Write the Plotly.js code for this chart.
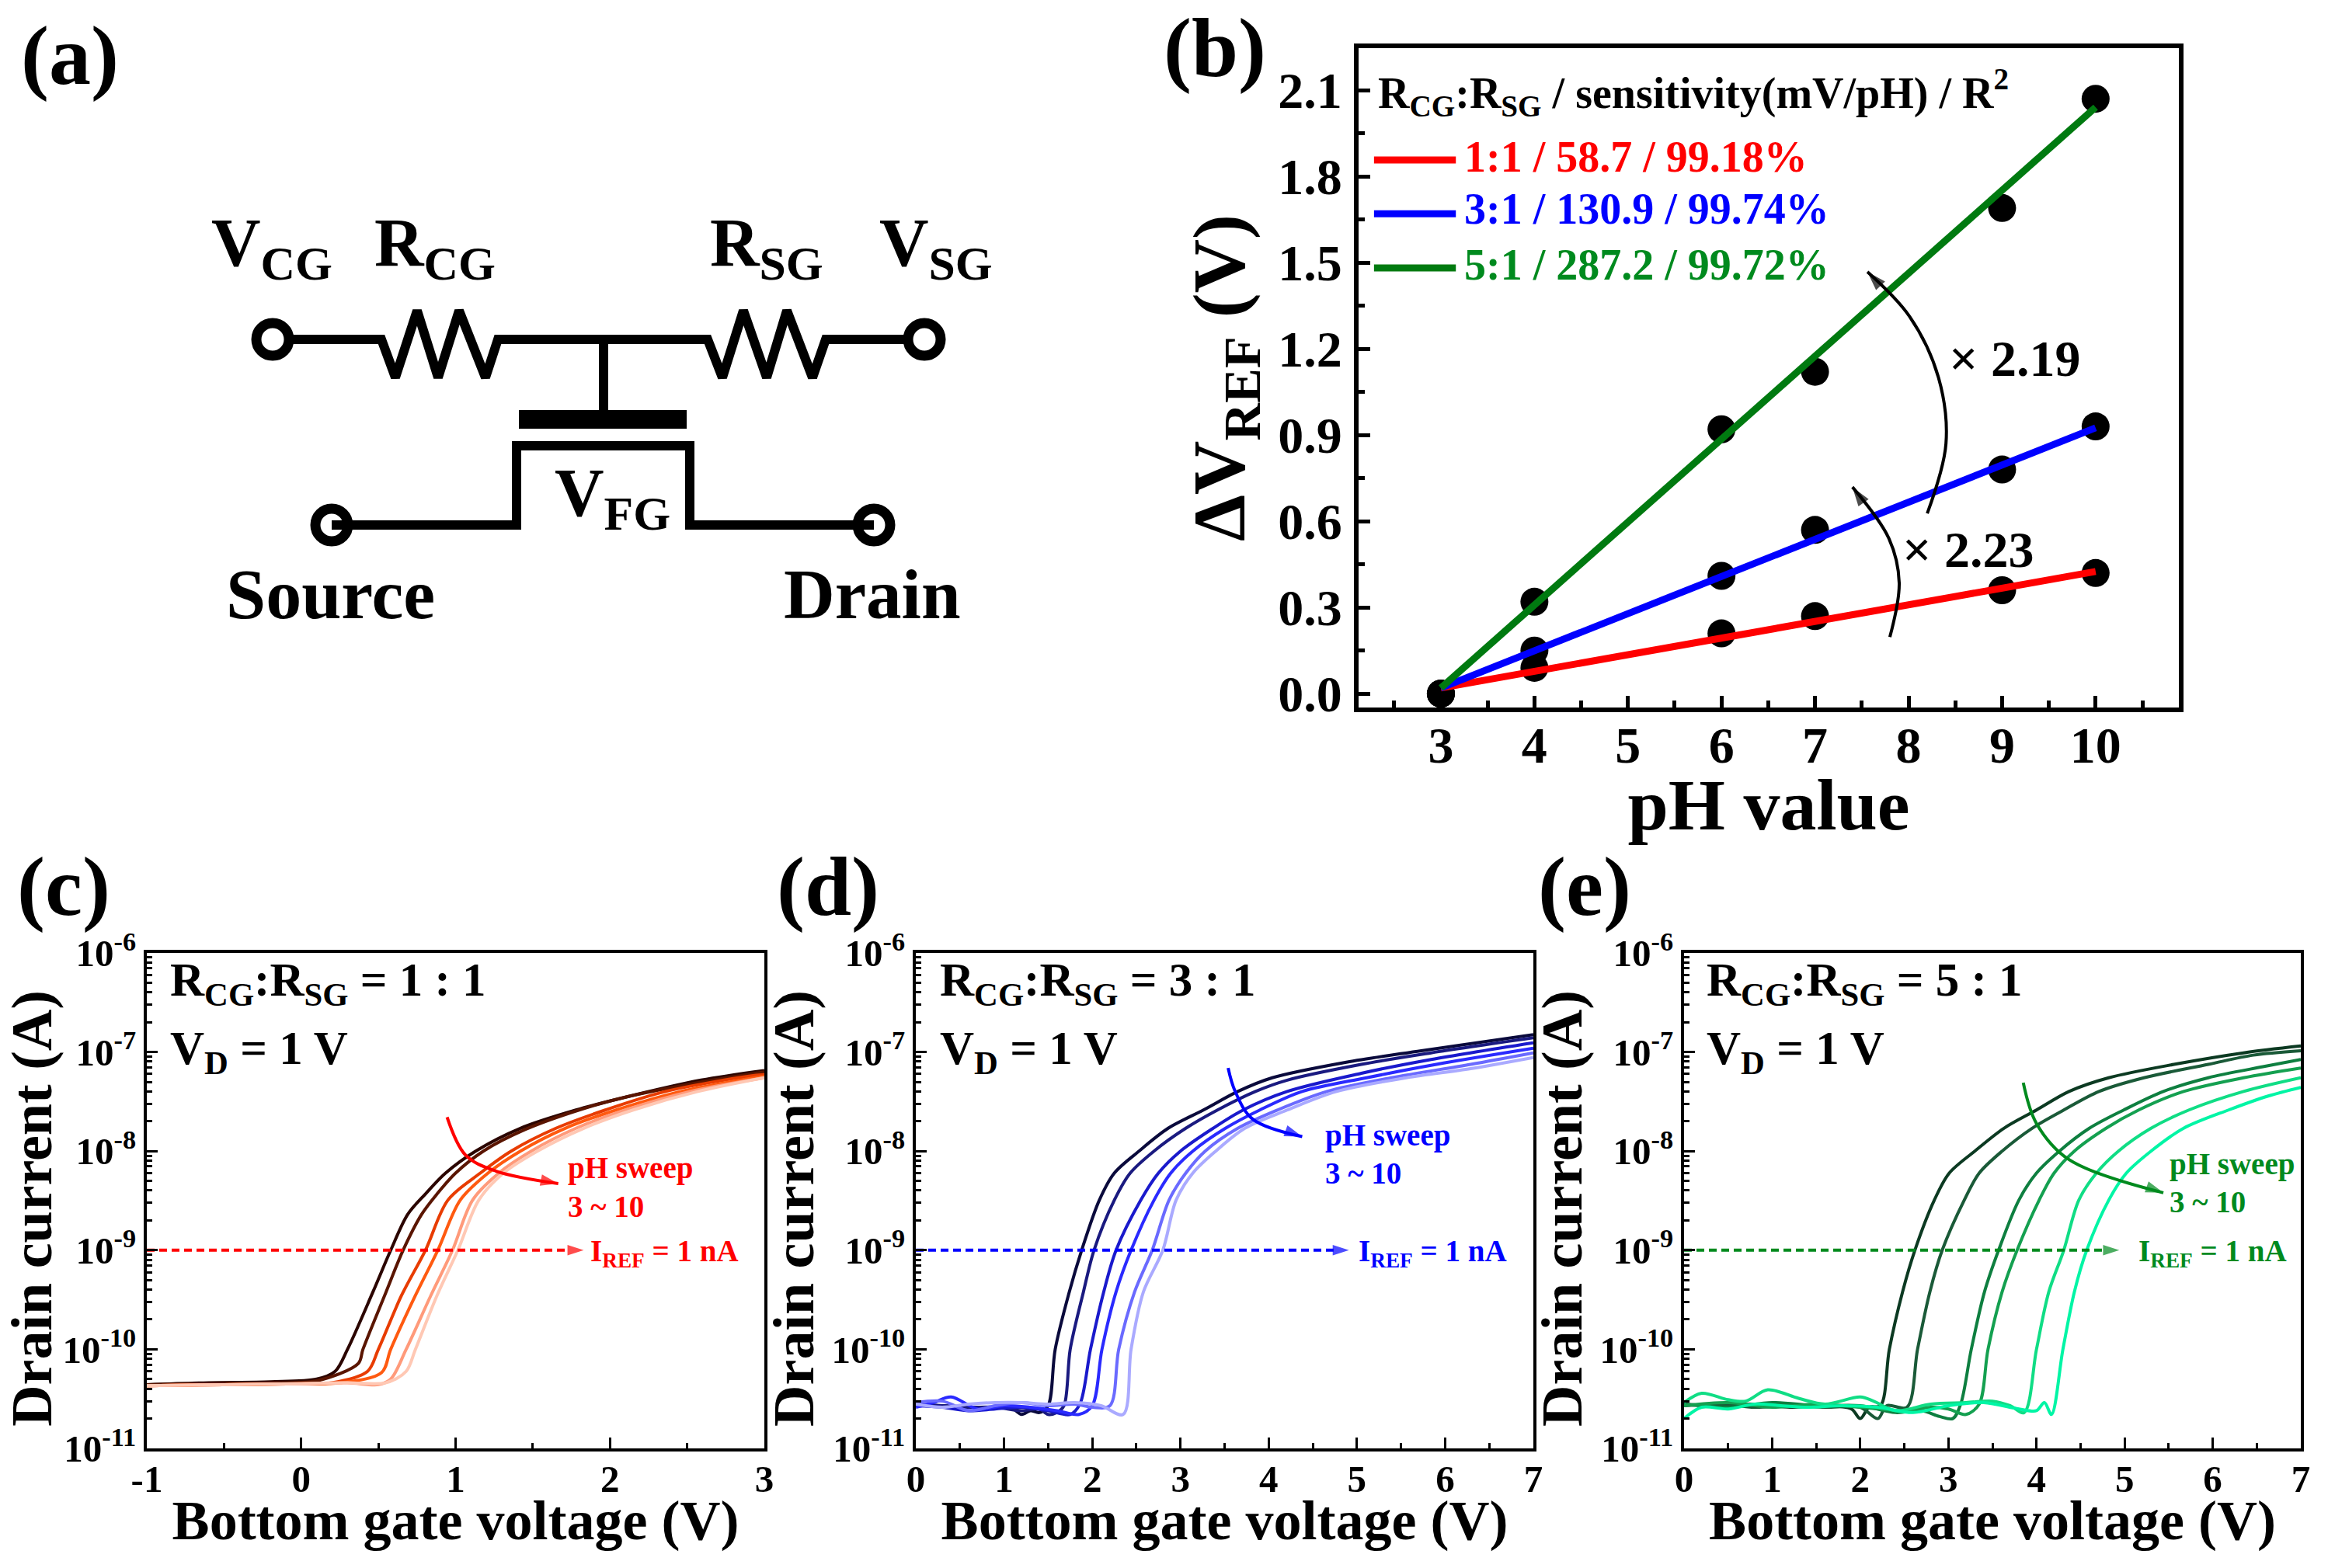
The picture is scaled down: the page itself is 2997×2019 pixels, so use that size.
<!DOCTYPE html>
<html><head><meta charset="utf-8">
<script src="https://cdn.plot.ly/plotly-3.0.0.min.js"></script>
<style>html,body{margin:0;padding:0;background:#fff}</style></head>
<body><div id="chart" style="width:2997px;height:2019px"></div>
<script>
const W=2997,H=2019,SERIF='"Liberation Serif","Times New Roman",serif';

// ---- panel (b) data ----
const pH=[3,4,6,7,9,10];
const dv11=[0,0.09,0.21,0.27,0.36,0.42];
const dv31=[0,0.15,0.41,0.57,0.78,0.93];
const dv51=[0,0.32,0.92,1.12,1.69,2.07];
const fitX=[3,10];
const fit11=[0.02,0.425];
const fit31=[0.02,0.925];
const fit51=[0.02,2.04];

// ---- panel (c) transfer curves: RCG:RSG = 1:1 ----
const c1V=[-1,-0.6,-0.2,0.1,0.22,0.3,0.465,0.58,0.69,0.805,0.935,1.13,1.42,1.78,2.1,2.59,3];
const c1I=[4.4e-11,4.6e-11,4.7e-11,5e-11,6e-11,1e-10,3.8e-10,1e-9,2.3e-9,3.7e-9,6e-9,1e-8,1.7e-8,2.6e-8,3.5e-8,5.2e-8,6.5e-8];
const c2V=[-1,-0.6,-0.2,0.1,0.37,0.4,0.55,0.66,0.78,0.88,1,1.18,1.45,1.8,2.1,2.6,3];
const c2I=[4.4e-11,4.5e-11,4.6e-11,4.8e-11,7.2e-11,1e-10,3.8e-10,1e-9,2.3e-9,3.7e-9,6e-9,1e-8,1.65e-8,2.6e-8,3.5e-8,5e-8,6.3e-8];
const c3V=[-1,-0.5,0,0.2,0.43,0.5,0.65,0.805,0.95,1.16,1.36,1.65,1.97,2.36,2.9,3];
const c3I=[4.3e-11,4.4e-11,4.5e-11,4.6e-11,6e-11,1e-10,3.5e-10,1e-9,3.2e-9,6e-9,1e-8,1.7e-8,2.6e-8,4e-8,5.7e-8,5.9e-8];
const c4V=[-1,-0.5,0,0.25,0.52,0.58,0.74,0.885,1.03,1.21,1.42,1.71,2.04,2.46,3];
const c4I=[4.3e-11,4.4e-11,4.5e-11,4.6e-11,5.8e-11,1e-10,3.5e-10,1e-9,3.2e-9,6e-9,1e-8,1.7e-8,2.6e-8,4e-8,5.7e-8];
const c5V=[-1,-0.5,0,0.3,0.5,0.58,0.68,0.84,0.98,1.11,1.28,1.49,1.78,2.1,2.52,3];
const c5I=[4.3e-11,4.4e-11,4.5e-11,4.6e-11,4.4e-11,5e-11,1e-10,3.5e-10,1e-9,3.2e-9,6e-9,1e-8,1.7e-8,2.6e-8,4e-8,5.5e-8];
const c6V=[-1,-0.5,0,0.3,0.55,0.68,0.74,0.88,1.015,1.15,1.31,1.53,1.83,2.15,2.57,3];
const c6I=[4.3e-11,4.4e-11,4.5e-11,4.6e-11,4.6e-11,6e-11,1e-10,3.5e-10,1e-9,3.2e-9,6e-9,1e-8,1.7e-8,2.6e-8,4e-8,5.5e-8];
const cColors=['#2b0500','#5a1500','#e83c00','#ff5a10','#ff9a7a','#ffc8b4'];

// ---- panel (d) transfer curves: RCG:RSG = 3:1 ----
const d1V=[0,0.3,0.6,0.9,1.1,1.2,1.3,1.4,1.5,1.58,1.74,1.88,2.08,2.25,2.53,2.86,3.26,3.65,4.04,4.88,5.73,7];
const d1I=[2.7e-11,2.7e-11,2.6e-11,2.6e-11,2.5e-11,2.2e-11,2.4e-11,2.3e-11,2.7e-11,1e-10,3.8e-10,1e-9,3.2e-9,6e-9,1e-8,1.7e-8,2.6e-8,4e-8,5.5e-8,7.9e-8,1.03e-7,1.5e-7];
const d2V=[0,0.3,0.6,0.9,1.2,1.4,1.5,1.6,1.68,1.75,1.9,2.02,2.25,2.43,2.7,3.06,3.42,3.85,4.21,5.05,5.84,7];
const d2I=[2.8e-11,2.7e-11,2.6e-11,2.6e-11,2.4e-11,2.5e-11,2.2e-11,2.3e-11,2.7e-11,1e-10,3.8e-10,1e-9,3.2e-9,6e-9,1e-8,1.7e-8,2.6e-8,4e-8,5.2e-8,7.5e-8,9.8e-8,1.39e-7];
const d3V=[0,0.3,0.6,0.9,1.2,1.5,1.75,1.86,1.98,2.13,2.27,2.55,2.75,3,3.37,3.71,4.21,5.05,5.84,7];
const d3I=[2.7e-11,2.6e-11,2.4e-11,2.5e-11,2.6e-11,2.4e-11,2.2e-11,2.8e-11,1e-10,3.8e-10,1e-9,3.2e-9,6e-9,1e-8,1.7e-8,2.6e-8,4e-8,6.1e-8,8.4e-8,1.24e-7];
const d4V=[0,0.2,0.4,0.7,1,1.3,1.6,1.85,2,2.11,2.27,2.44,2.7,2.89,3.14,3.51,3.9,4.38,5.11,5.9,7];
const d4I=[2.6e-11,2.9e-11,3.3e-11,2.5e-11,2.7e-11,2.6e-11,2.4e-11,2.2e-11,2.7e-11,1e-10,3.8e-10,1e-9,3.2e-9,6e-9,1e-8,1.7e-8,2.6e-8,4e-8,5.5e-8,7.5e-8,1.09e-7];
const d5V=[0,0.3,0.6,0.9,1.2,1.5,1.8,2,2.2,2.3,2.48,2.68,2.87,3.06,3.28,3.65,4.1,4.66,5.39,6.29,7];
const d5I=[2.9e-11,3e-11,2.4e-11,2.7e-11,2.9e-11,2.7e-11,2.8e-11,2.6e-11,2.7e-11,1e-10,3.8e-10,1e-9,3.2e-9,6e-9,1e-8,1.7e-8,2.6e-8,4e-8,5.5e-8,7.5e-8,9.8e-8];
const d6V=[0,0.3,0.6,0.9,1.2,1.5,1.8,2.1,2.35,2.44,2.58,2.8,2.95,3.14,3.4,3.73,4.21,4.77,5.56,6.29,7];
const d6I=[2.8e-11,2.6e-11,2.8e-11,2.9e-11,2.9e-11,2.8e-11,2.9e-11,2.7e-11,2.2e-11,1e-10,3.8e-10,1e-9,3.2e-9,6e-9,1e-8,1.7e-8,2.6e-8,4e-8,5.5e-8,6.8e-8,8.8e-8];
const dColors=['#0a0a3c','#1a1a80','#1a1acc','#2a2aff','#6a6aff','#aaaaff'];

// ---- panel (e) transfer curves: RCG:RSG = 5:1 ----
const e1V=[0,0.4,0.8,1.2,1.6,1.9,2,2.1,2.23,2.33,2.48,2.62,2.84,3.01,3.3,3.63,4,4.37,4.82,5.56,6.35,7];
const e1I=[2.8e-11,2.7e-11,2.8e-11,2.6e-11,2.7e-11,2.5e-11,2e-11,2.6e-11,2.7e-11,1e-10,3.8e-10,1e-9,3.2e-9,6e-9,1e-8,1.7e-8,2.6e-8,4e-8,5.5e-8,7.5e-8,9.8e-8,1.15e-7];
const e2V=[0,0.4,0.8,1.2,1.6,2,2.2,2.3,2.53,2.65,2.79,2.93,3.18,3.35,3.61,3.95,4.31,4.71,5.22,5.95,6.46,7];
const e2I=[2.7e-11,2.8e-11,2.6e-11,2.7e-11,2.6e-11,2.6e-11,2e-11,2.7e-11,2.6e-11,1e-10,3.8e-10,1e-9,3.2e-9,6e-9,1e-8,1.7e-8,2.6e-8,4e-8,5.5e-8,7.5e-8,9.3e-8,1.03e-7];
const e3V=[0,0.5,1,1.5,2,2.4,2.7,2.9,3.05,3.14,3.26,3.41,3.57,3.8,4,4.26,4.6,4.99,5.44,5.95,6.57,7];
const e3I=[2.8e-11,2.6e-11,2.9e-11,2.7e-11,2.7e-11,2.3e-11,2.4e-11,2.1e-11,2e-11,2.8e-11,1e-10,3.8e-10,1e-9,3.2e-9,6e-9,1e-8,1.7e-8,2.6e-8,4e-8,5.5e-8,7.1e-8,8.4e-8];
const e4V=[0,0.5,1,1.5,2,2.5,2.8,3,3.2,3.35,3.45,3.61,3.78,4.03,4.2,4.43,4.79,5.16,5.67,6.35,7];
const e4I=[2.7e-11,2.9e-11,2.6e-11,2.8e-11,2.6e-11,2.4e-11,2.6e-11,2.5e-11,2.2e-11,2.8e-11,1e-10,3.8e-10,1e-9,3.2e-9,6e-9,1e-8,1.7e-8,2.6e-8,4e-8,5.5e-8,6.9e-8];
const e5V=[0,0.2,0.5,0.7,0.95,1.3,1.6,2,2.15,2.4,2.8,3.2,3.5,3.7,3.86,4,4.14,4.31,4.48,4.68,4.93,5.3,5.73,6.35,7];
const e5I=[2.9e-11,3.6e-11,3.1e-11,3e-11,3.9e-11,3.2e-11,2.8e-11,3.3e-11,3e-11,2.4e-11,2.8e-11,2.9e-11,3e-11,2.7e-11,2.3e-11,1e-10,3.8e-10,1e-9,3.2e-9,6e-9,1e-8,1.7e-8,2.6e-8,4e-8,5.5e-8];
const e6V=[0,0.2,0.5,0.8,1.1,1.4,1.8,2.2,2.6,3,3.4,3.8,4,4.09,4.17,4.3,4.43,4.57,4.82,5.02,5.3,5.67,6.18,6.63,7];
const e6I=[2e-11,2.6e-11,2.5e-11,2.8e-11,2.7e-11,2.6e-11,2.7e-11,2.6e-11,2.3e-11,2.7e-11,2.9e-11,2.5e-11,2.4e-11,2.9e-11,2.2e-11,1e-10,3.8e-10,1e-9,3.2e-9,6e-9,1e-8,1.7e-8,2.6e-8,3.6e-8,4.4e-8];
const eColors=['#0c3a22','#1a5a38','#0e7f40','#14a050','#10dd85','#00f5a5'];

// ---- axis ticks and labels ----
const logTickVals=[1e-11,1e-10,1e-9,1e-8,1e-7,1e-6];
const logTickText=['10<sup>-11</sup>','10<sup>-10</sup>','10<sup>-9</sup>','10<sup>-8</sup>','10<sup>-7</sup>','10<sup>-6</sup>'];
const logMinorMant=[2,3,4,5,6,7,8,9];
const cTickVals=[-1,0,1,2,3], cTickText=['-1','0','1','2','3'];
const dTickVals=[0,1,2,3,4,5,6,7], dTickText=['0','1','2','3','4','5','6','7'];
const bXVals=[3,4,5,6,7,8,9,10], bXText=['3','4','5','6','7','8','9','10'];
const bYVals=[0,0.3,0.6,0.9,1.2,1.5,1.8,2.1], bYText=['0.0','0.3','0.6','0.9','1.2','1.5','1.8','2.1'];

// ---- guide and arrow paths ----
const irefC=[-1,1.83], irefD=[0,4.91], irefE=[0,4.94], iref=1e-9;
const sweepCx=[0.945,1.065,1.26,1.665], sweepCy=[2.2e-8,9.1e-9,6.3e-9,4.7e-9];
const sweepDx=[3.54,3.62,3.82,4.38], sweepDy=[6.9e-8,4e-8,2.1e-8,1.4e-8];
const sweepEx=[3.85,4.0,4.37,5.44], sweepEy=[4.9e-8,1.9e-8,8.2e-9,3.8e-9];
const gain1x=[8.2,8.4,8.32,8.01,7.56], gain1y=[0.627,0.87,1.1,1.313,1.468];
const gain2x=[7.8,7.9,7.79,7.4], gain2y=[0.197,0.386,0.54,0.719];

// ---- schematic (a), drawn on a hidden canvas-sized axis ----
const wireTopX=[375,491,509,537,564,591,625,641,911,930,957,987,1013,1046,1063,1165];
const wireTopY=[437,437,486,400,486,400,486,437,437,486,400,486,400,486,437,437];
const stemX=[777,777], stemY=[437,529];
const gateBarX=[668,884], gateBarY=[540,540];
const channelX=[427,665,665,888,888,1125], channelY=[676,676,574,574,676,676];
const termX=[351,1190,427,1125], termY=[437,437,676,676];

const RED='#ff0000',BLUE='#0000ff',DGREEN='#008a1e';

const traces=[];
function line(x,y,color,width,ax,extra){
  traces.push(Object.assign({type:'scatter',mode:'lines',x,y,xaxis:'x'+ax,yaxis:'y'+ax,hoverinfo:'skip',showlegend:false,
    line:{color,width}},extra||{}));
}
function curve(x,y,color,ax){
  line(x,y,color,4,ax); traces[traces.length-1].line.shape='spline'; traces[traces.length-1].line.smoothing=0.9;
}
function arrowLine(x,y,color,width,ax,size){
  const sizes=x.map((v,i)=>i===x.length-1?size:0);
  traces.push({type:'scatter',mode:'lines+markers',x,y,xaxis:'x'+ax,yaxis:'y'+ax,hoverinfo:'skip',showlegend:false,
    line:{color,width,shape:'spline',smoothing:1},
    marker:{symbol:'arrow',angleref:'previous',size:sizes,color,line:{width:0}}});
}
// schematic
line(wireTopX,wireTopY,'#000',12,5);
line(stemX,stemY,'#000',12,5);
line(gateBarX,gateBarY,'#000',24,5);
line(channelX,channelY,'#000',12,5);
traces.push({type:'scatter',mode:'markers',x:termX,y:termY,xaxis:'x5',yaxis:'y5',hoverinfo:'skip',showlegend:false,
  marker:{symbol:'circle-open',size:42,color:'#000',line:{width:13,color:'#000'}}});
// panel b
[dv11,dv31,dv51].forEach(v=>traces.push({type:'scatter',mode:'markers',x:pH,y:v,xaxis:'x',yaxis:'y',hoverinfo:'skip',showlegend:false,
  marker:{color:'#000',size:36}}));
line(fitX,fit11,'#ff0000',9,'');
line(fitX,fit31,'#0000ff',9,'');
line(fitX,fit51,'#007a10',9,'');
line([2.285,3.16],[1.857,1.857],'#ff0000',9,'');
line([2.285,3.16],[1.67,1.67],'#0000ff',9,'');
line([2.285,3.16],[1.481,1.481],'#007a10',9,'');
arrowLine(gain1x,gain1y,'#000',4,'',26);
arrowLine(gain2x,gain2y,'#000',4,'',26);
// panels c,d,e
[[c1V,c1I],[c2V,c2I],[c3V,c3I],[c4V,c4I],[c5V,c5I],[c6V,c6I]].forEach((s,i)=>curve(s[0],s[1],cColors[i],2));
[[d1V,d1I],[d2V,d2I],[d3V,d3I],[d4V,d4I],[d5V,d5I],[d6V,d6I]].forEach((s,i)=>curve(s[0],s[1],dColors[i],3));
[[e1V,e1I],[e2V,e2I],[e3V,e3I],[e4V,e4I],[e5V,e5I],[e6V,e6I]].forEach((s,i)=>curve(s[0],s[1],eColors[i],4));
function irefLine(x,color,ax){
  traces.push({type:'scatter',mode:'lines+markers',x,y:x.map(()=>iref),xaxis:'x'+ax,yaxis:'y'+ax,hoverinfo:'skip',showlegend:false,
    line:{color,width:4,dash:'10px,6px'},marker:{symbol:'arrow',angleref:'previous',size:[0,22],color,line:{width:0}}});
}
irefLine(irefC,RED,2); irefLine(irefD,BLUE,3); irefLine(irefE,DGREEN,4);
arrowLine(sweepCx,sweepCy,RED,4,2,24);
arrowLine(sweepDx,sweepDy,BLUE,4,3,24);
arrowLine(sweepEx,sweepEy,DGREEN,4,4,24);

// ---- text ----
const annos=[];
function t(text,x,y,size,color,anchor,textangle){
  annos.push({text,xref:'paper',yref:'paper',x:x/W,y:1-y/H,showarrow:false,xanchor:anchor||'center',yanchor:'middle',
    font:{family:SERIF,size,color:color||'#000',weight:700},textangle:textangle||0,borderpad:0,borderwidth:0});
}
t('(a)',90,72,108); t('(b)',1564,62,108); t('(c)',82,1142,108); t('(d)',1066,1142,108); t('(e)',2040,1142,108);
t('V<sub>CG</sub>',350,318,88); t('R<sub>CG</sub>',560,318,88); t('R<sub>SG</sub>',987,318,88); t('V<sub>SG</sub>',1205,318,88);
t('V<sub>FG</sub>',788,640,88); t('Source',426,765,92); t('Drain',1123,765,91);
t('R<sub>CG</sub>:R<sub>SG</sub> / sensitivity(mV/pH) / R<sup>2</sup>',1774,119,56,'#000','left');
t('1:1 / 58.7 / 99.18%',1885,202,56,RED,'left');
t('3:1 / 130.9 / 99.74%',1885,269,56,BLUE,'left');
t('5:1 / 287.2 / 99.72%',1885,341,56,DGREEN,'left');
t('× 2.19',2509,462,66,'#000','left');
t('× 2.23',2449,707,66,'#000','left');
[['R<sub>CG</sub>:R<sub>SG</sub> = 1 : 1',219],['R<sub>CG</sub>:R<sub>SG</sub> = 3 : 1',1210],['R<sub>CG</sub>:R<sub>SG</sub> = 5 : 1',2197]].forEach(a=>t(a[0],a[1],1266,61,'#000','left'));
[219,1210,2197].forEach(x=>t('V<sub>D</sub> = 1 V',x,1354,61,'#000','left'));
t('pH sweep',731,1504,39,RED,'left'); t('3 ~ 10',731,1553,39,RED,'left'); t('I<sub>REF</sub> = 1 nA',760,1613,39,RED,'left');
t('pH sweep',1706,1462,39,BLUE,'left'); t('3 ~ 10',1706,1510,39,BLUE,'left'); t('I<sub>REF</sub> = 1 nA',1749,1613,39,BLUE,'left');
t('pH sweep',2793,1499,39,DGREEN,'left'); t('3 ~ 10',2793,1547,39,DGREEN,'left'); t('I<sub>REF</sub> = 1 nA',2753,1613,39,DGREEN,'left');

// ---- axes ----
function base(){return {showgrid:false,zeroline:false,showline:true,linecolor:'#000',linewidth:4,mirror:true,ticks:'inside',tickcolor:'#000',
  tickmode:'array',fixedrange:true,tickfont:{family:SERIF,size:49,color:'#000',weight:700}};}
function xd(a,b){return [a/W,b/W];} function yd(a,b){return [1-b/H,1-a/H];}
const logMinor=[];
[-11,-10,-9,-8,-7].forEach(e=>logMinorMant.forEach(m=>logMinor.push(m*Math.pow(10,e))));
function logY(anchor,title){
  return Object.assign(base(),{type:'log',range:[-11,-6],domain:yd(1227,1865),anchor,tickvals:logTickVals,ticktext:logTickText,ticklen:14,tickwidth:3,ticklabelstandoff:0,
    minor:{tickmode:'array',tickvals:logMinor,ticks:'inside',ticklen:7,tickwidth:3,tickcolor:'#000'},
    title:{text:title,font:{family:SERIF,size:74,color:'#000',weight:700},standoff:0}});
}
function linX(anchor,range,dom,vals,text,minorVals){
  return Object.assign(base(),{range,domain:dom,anchor,tickvals:vals,ticktext:text,ticklen:14,tickwidth:3,ticklabelstandoff:-7,
    minor:{tickmode:'array',tickvals:minorVals,ticks:'inside',ticklen:7,tickwidth:3,tickcolor:'#000'},
    title:{text:'Bottom gate voltage (V)',font:{family:SERIF,size:72,color:'#000',weight:700},standoff:0}});
}
const layout={width:W,height:H,autosize:false,margin:{l:0,r:0,t:0,b:0,pad:0},paper_bgcolor:'#fff',plot_bgcolor:'rgba(0,0,0,0)',showlegend:false,
  annotations:annos,
  xaxis:Object.assign(base(),{range:[2.12,10.89],domain:xd(1749,2805),anchor:'y',linewidth:6,tickvals:bXVals,ticktext:bXText,ticklen:15,tickwidth:5,ticklabelstandoff:-14,
    tickfont:{family:SERIF,size:66,color:'#000',weight:700},
    minor:{tickmode:'array',tickvals:[2.5,3.5,4.5,5.5,6.5,7.5,8.5,9.5,10.5],ticks:'inside',ticklen:9,tickwidth:5,tickcolor:'#000'},
    title:{text:'pH value',font:{family:SERIF,size:94,color:'#000',weight:700},standoff:0}}),
  yaxis:Object.assign(base(),{range:[-0.048,2.246],domain:yd(62,911),anchor:'x',linewidth:6,tickvals:bYVals,ticktext:bYText,ticklen:15,tickwidth:5,ticklabelstandoff:2,
    tickfont:{family:SERIF,size:66,color:'#000',weight:700},
    minor:{tickmode:'array',tickvals:[0.15,0.45,0.75,1.05,1.35,1.65,1.95],ticks:'inside',ticklen:8,tickwidth:5,tickcolor:'#000'},
    title:{text:'ΔV<sub>REF</sub> (V)',font:{family:SERIF,size:96,color:'#000',weight:700},standoff:13}}),
  xaxis2:linX('y2',[-1,3],xd(189,984),cTickVals,cTickText,[-0.5,0.5,1.5,2.5]),
  yaxis2:logY('x2','Drain current (A)'),
  xaxis3:linX('y3',[0,7],xd(1179,1974),dTickVals,dTickText,[0.5,1.5,2.5,3.5,4.5,5.5,6.5]),
  yaxis3:logY('x3','Drain current (A)'),
  xaxis4:linX('y4',[0,7],xd(2168,2962),dTickVals,dTickText,[0.5,1.5,2.5,3.5,4.5,5.5,6.5]),
  yaxis4:logY('x4','Drain current (A)'),
  xaxis5:{range:[0,W],domain:[0,1],anchor:'y5',visible:false,fixedrange:true},
  yaxis5:{range:[H,0],domain:[0,1],anchor:'x5',visible:false,fixedrange:true}
};
Plotly.newPlot('chart',traces,layout,{staticPlot:true,displayModeBar:false}).then(gd=>{
  // fine placement of the real axis titles
  const nudge={xtitle:[0,-12],x2title:[0,-14],x3title:[0,-14],x4title:[0,-14],y2title:[0,10],y3title:[0,10],y4title:[0,10]};
  Object.keys(nudge).forEach(k=>gd.querySelectorAll('.'+k).forEach(el=>{
    const prev=el.getAttribute('transform')||'';
    el.setAttribute('transform','translate('+nudge[k].join(',')+') '+prev);
  }));
});
</script></body></html>
